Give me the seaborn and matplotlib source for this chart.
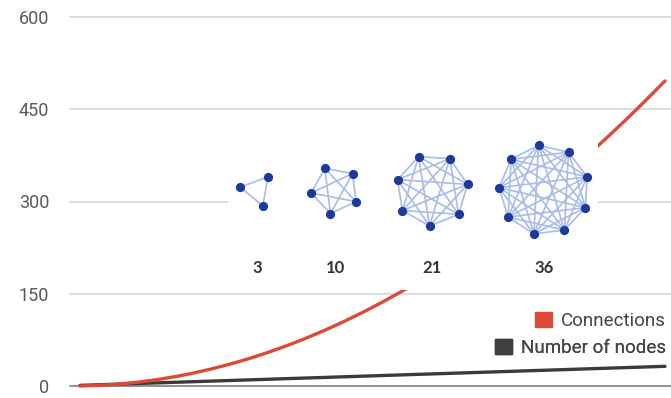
import numpy as np
import pandas as pd
import matplotlib
matplotlib.use("Agg")
import matplotlib.pyplot as plt
import seaborn as sns
from matplotlib.patches import Patch

# --- data ---
nodes = [1, 2, 3, 4, 5, 6, 7, 8, 9, 10, 11, 12, 13, 14, 15, 16,
         17, 18, 19, 20, 21, 22, 23, 24, 25, 26, 27, 28, 29, 30, 31, 32]
connections = [0, 1, 3, 6, 10, 15, 21, 28, 36, 45, 55, 66, 78, 91, 105, 120,
               136, 153, 171, 190, 210, 231, 253, 276, 300, 325, 351, 378, 406, 435, 465, 496]
y_ticks = [0, 150, 300, 450, 600]
series_names = ["Connections", "Number of nodes"]

# inset: complete graphs and their edge counts
graph_sizes = [3, 5, 7, 9]
graph_labels = ["3", "10", "21", "36"]

RED = "#dc4a37"
DARK = "#3a3a3a"

df = pd.DataFrame({"nodes": nodes, "connections": connections})

sns.set_style("white")
plt.rcParams["font.family"] = ["Roboto", "DejaVu Sans"]

fig = plt.figure(figsize=(6.71, 3.98), dpi=100)
ax = fig.add_axes([70 / 671, 12 / 398, 601 / 671, 369 / 398])

for y in y_ticks:
    ax.axhline(y, color="#888888" if y == 0 else "#d9d9d9", lw=1.3, zorder=0, clip_on=False)

sns.lineplot(data=df, x="nodes", y="nodes", color=DARK, lw=2.4, ax=ax, clip_on=False)
sns.lineplot(data=df, x="nodes", y="connections", color=RED, lw=2.4, ax=ax, clip_on=False)

ax.set_xlim(0.47, 32.32)
ax.set_ylim(0, 600)
ax.set_yticks(y_ticks)
ax.set_xticks([])
ax.set_xlabel("")
ax.set_ylabel("")
ax.tick_params(axis="y", length=0, pad=15, labelsize=13, labelcolor="#5a5a5a")
sns.despine(ax=ax, left=True, bottom=True)

# legend: one entry per row, text right-aligned at the same edge
row_y = [321, 348]
legend_colors = [RED, "#3f3f3f"]
for name, col, ry in zip(series_names, legend_colors, row_y):
    leg = ax.legend(handles=[Patch(color=col, label=name)], loc="center right",
                    bbox_to_anchor=(666 / 671, 1 - ry / 398), bbox_transform=fig.transFigure,
                    frameon=False, fontsize=13.5, handlelength=0.9, handleheight=0.9,
                    handletextpad=0.5, borderaxespad=0, borderpad=0)
    leg.get_texts()[0].set_color("#444444")
    ax.add_artist(leg)

# --- inset with network drawings (pixel coordinates) ---
ins = fig.add_axes([228 / 671, (398 - 290) / 398, 370 / 671, 152 / 398], zorder=5)
ins.set_facecolor("white")
ins.set_xlim(228, 598)
ins.set_ylim(290, 138)
ins.axis("off")
ins.add_patch(plt.Rectangle((228, 138), 370, 152, color="white", zorder=0))

centers_x = [257, 335, 432, 544]
center_y = 190
radii = [17, 24, 36, 45]
start_angles = [50, 43, 9, 17]
for n, lab, cx, r, a0 in zip(graph_sizes, graph_labels, centers_x, radii, start_angles):
    ang = np.deg2rad(a0 + 360.0 / n * np.arange(n))
    px = cx + r * np.cos(ang)
    py = center_y - r * np.sin(ang)
    for i in range(n):
        for j in range(i + 1, n):
            ins.plot([px[i], px[j]], [py[i], py[j]], color="#a8bce8", lw=1.2, zorder=1)
    ins.scatter(px, py, s=44, color="#1d3a9a", zorder=2, linewidths=0)
    ins.text(cx, 268, lab, ha="center", va="center", fontsize=12, color="#333333",
             family=["Lato", "DejaVu Sans"], fontweight="bold")

fig.savefig("out.png", dpi=100)
